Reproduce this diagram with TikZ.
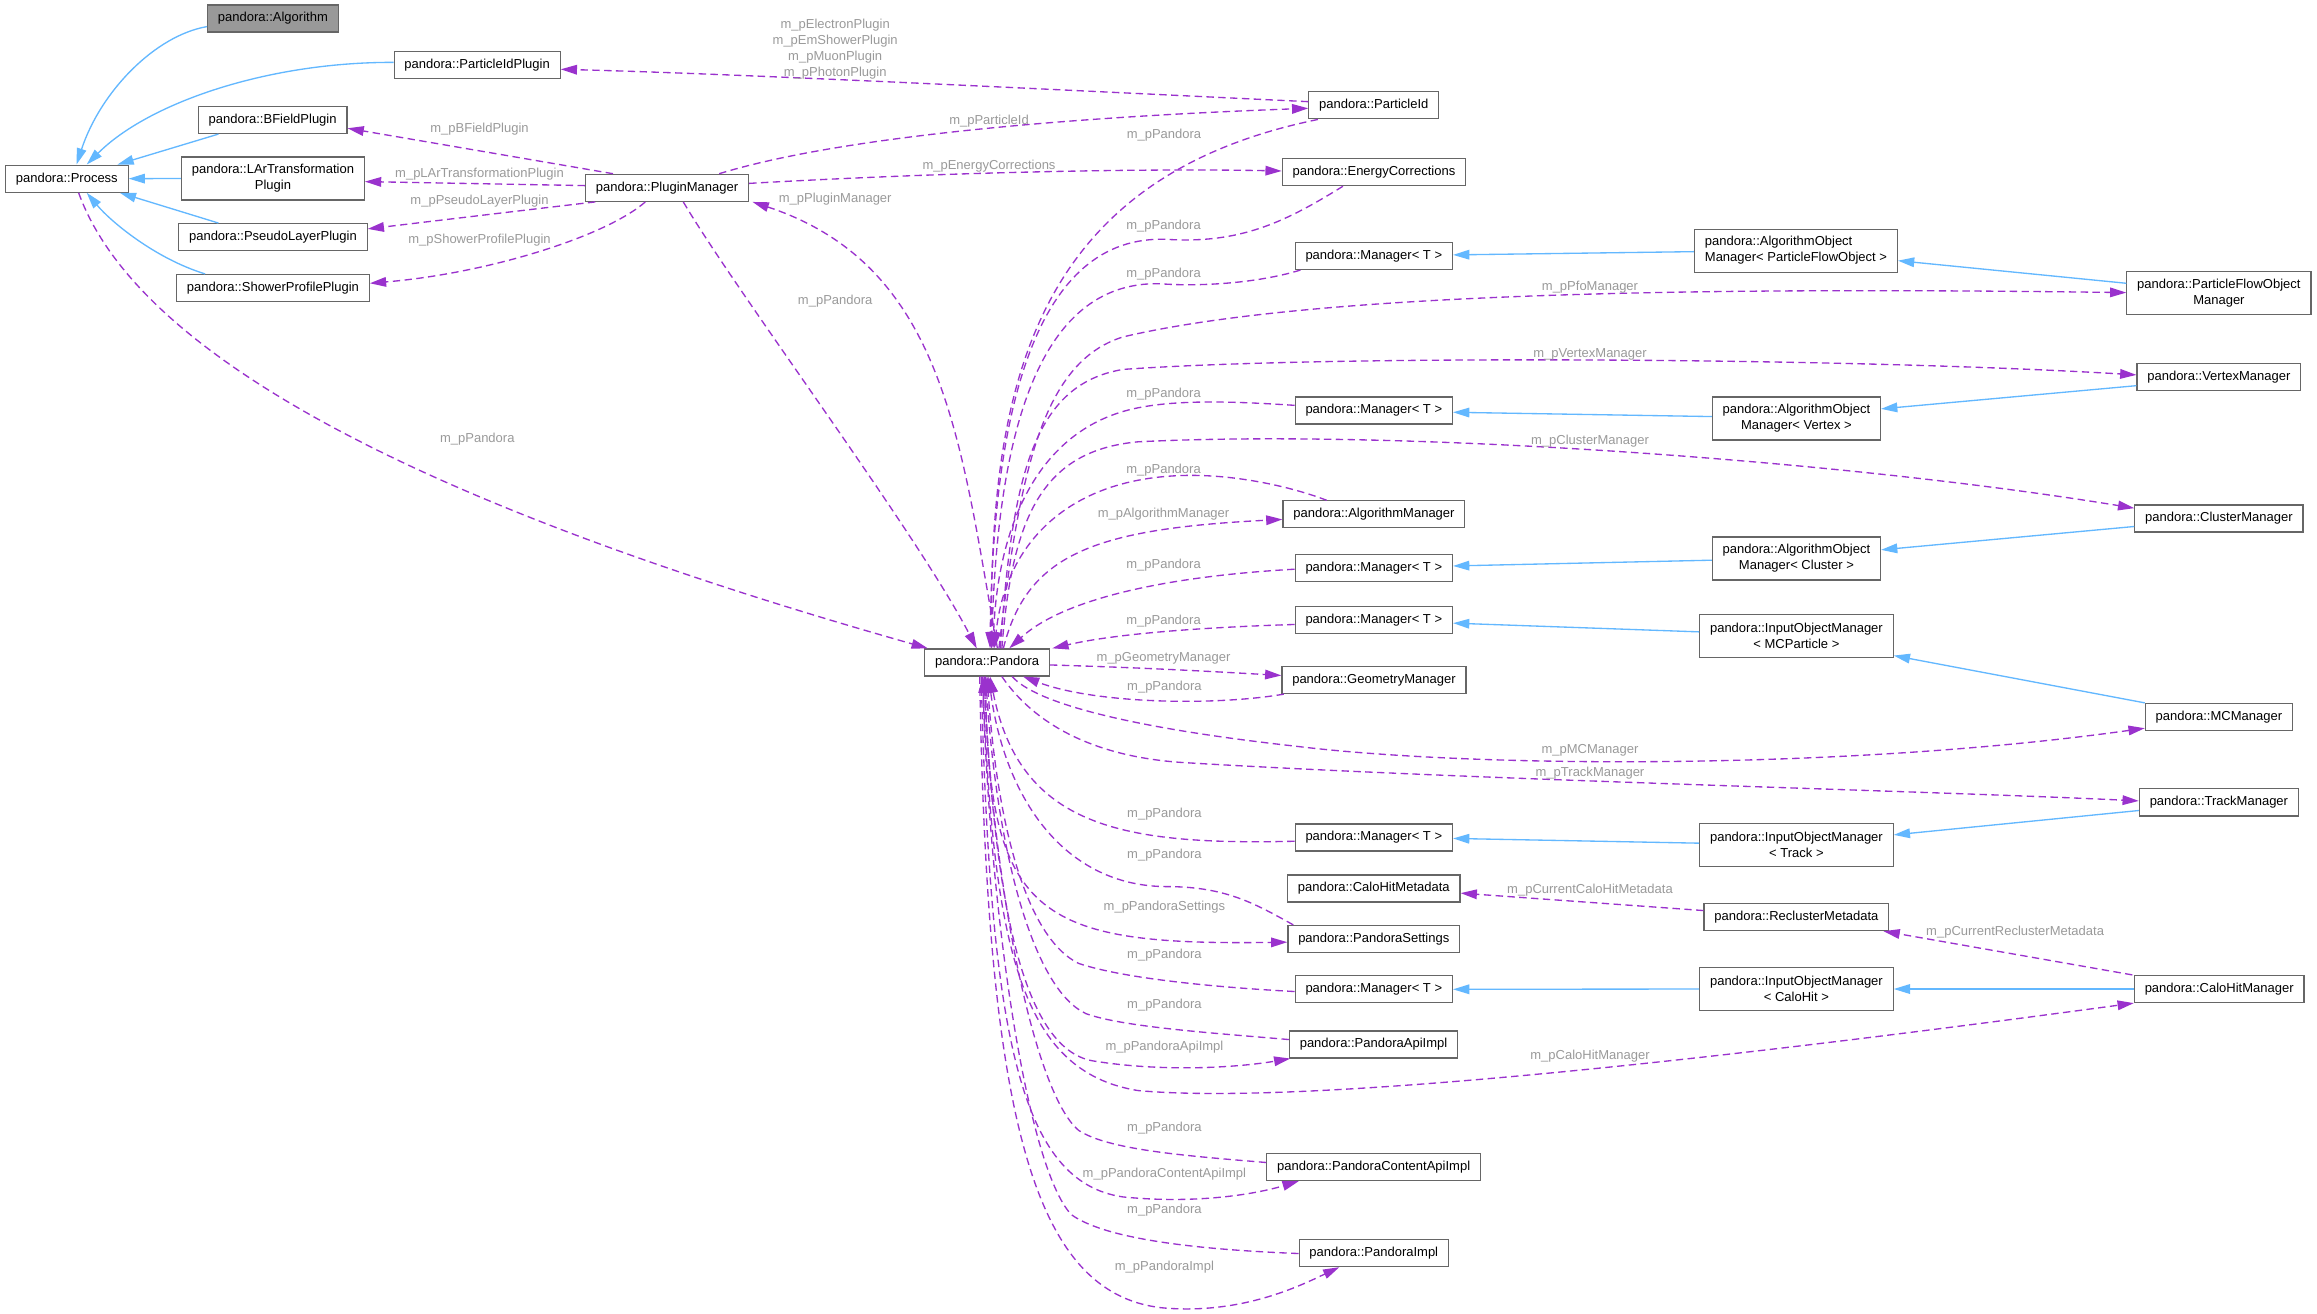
\documentclass[tikz,border=0pt]{standalone}
\usepackage{fontspec}
\setmainfont{Liberation Sans}
\usetikzlibrary{arrows.meta,calc}
\definecolor{usec}{HTML}{9A32CD}
\definecolor{inhc}{HTML}{63B8FF}
\definecolor{bordc}{HTML}{666666}
\definecolor{lblc}{HTML}{9A9A9A}
\definecolor{algfill}{HTML}{999999}
\newcommand{\dfs}{\fontsize{8.8}{10.8}\selectfont}
\begin{document}
\begin{tikzpicture}[x=1pt,y=-1pt,
  cls/.style={draw=bordc, fill=white, line width=0.8pt, inner xsep=7pt, inner ysep=0pt, minimum height=18.3pt, font=\dfs, text=black},
  cls2/.style={cls, align=center, minimum height=29.1pt},
  inh/.style={draw=inhc, line width=0.9pt, -{Triangle[length=11pt,width=6.5pt]}},
  use/.style={draw=usec, line width=0.9pt, dash pattern=on 5pt off 3pt, -{Triangle[length=11pt,width=6.5pt]}},
  lbl/.style={text=lblc, font=\dfs, inner sep=0pt, align=center}]
\fill[white] (0,0) rectangle (1568,888.6);
\useasboundingbox (0,0) rectangle (1568,888.6);

% ---------- nodes ----------
\node[cls, fill=algfill] (alg) at (184.7,12.5) {pandora::Algorithm};
\node[cls] (pip) at (322.9,44.2) {pandora::ParticleIdPlugin};
\node[cls] (bfp) at (184.5,81.2) {pandora::BFieldPlugin};
\node[cls2] (lar) at (184.7,120.8) {pandora::LArTransformation\\Plugin};
\node[cls] (proc) at (45.2,120.9) {pandora::Process};
\node[cls] (plp) at (184.7,160.5) {pandora::PseudoLayerPlugin};
\node[cls] (spp) at (184.7,194.9) {pandora::ShowerProfilePlugin};
\node[cls] (pm) at (451.4,127.1) {pandora::PluginManager};
\node[cls] (pid) at (929.7,71.3) {pandora::ParticleId};
\node[cls] (ec) at (929.8,116.5) {pandora::EnergyCorrections};
\node[cls] (m1) at (929.7,173.2) {pandora::Manager< T >};
\node[cls] (m2) at (929.7,277.8) {pandora::Manager< T >};
\node[cls] (am) at (929.8,348.1) {pandora::AlgorithmManager};
\node[cls] (m3) at (929.7,384.5) {pandora::Manager< T >};
\node[cls] (m4) at (929.7,419.6) {pandora::Manager< T >};
\node[cls] (pan) at (668,448.3) {pandora::Pandora};
\node[cls] (gm) at (929.8,460.2) {pandora::GeometryManager};
\node[cls] (m5) at (929.7,566.8) {pandora::Manager< T >};
\node[cls] (chmd) at (929.7,601.3) {pandora::CaloHitMetadata};
\node[cls] (ps) at (929.7,635.4) {pandora::PandoraSettings};
\node[cls] (m6) at (929.7,669.5) {pandora::Manager< T >};
\node[cls] (pai) at (929.5,706.8) {pandora::PandoraApiImpl};
\node[cls] (pcai) at (929.6,789.8) {pandora::PandoraContentApiImpl};
\node[cls] (pimpl) at (929.7,848) {pandora::PandoraImpl};
\node[cls2, align=left] (aompfo) at (1215.4,169.6) {pandora::AlgorithmObject\\Manager< ParticleFlowObject >};
\node[cls2] (pfom) at (1501.6,198.4) {pandora::ParticleFlowObject\\Manager};
\node[cls] (vm) at (1501.6,255.2) {pandora::VertexManager};
\node[cls2] (aomv) at (1215.7,283.2) {pandora::AlgorithmObject\\Manager< Vertex >};
\node[cls] (cm) at (1501.6,350.9) {pandora::ClusterManager};
\node[cls2] (aomc) at (1215.7,377.9) {pandora::AlgorithmObject\\Manager< Cluster >};
\node[cls2] (iommc) at (1215.7,430.2) {pandora::InputObjectManager\\< MCParticle >};
\node[cls] (mcm) at (1501.6,485.2) {pandora::MCManager};
\node[cls] (tm) at (1501.6,543) {pandora::TrackManager};
\node[cls2] (iomt) at (1215.7,571.8) {pandora::InputObjectManager\\< Track >};
\node[cls] (rm) at (1215.7,620.6) {pandora::ReclusterMetadata};
\node[cls2] (iomch) at (1215.7,669.3) {pandora::InputObjectManager\\< CaloHit >};
\node[cls] (chm) at (1501.8,669.3) {pandora::CaloHitManager};

% ---------- inheritance ----------
\draw[inh] ($(alg.west)+(0,5.5)$) .. controls (105,24) and (68,62) .. ($(proc.north)+(6.6,0)$);
\draw[inh] ($(pip.west)+(0,-2)$) .. controls (180,42) and (100,70) .. ($(proc.north)+(13.5,0)$);
\draw[inh] ($(bfp.south west)+(14,0)$) -- ($(proc.north east)+(-7.6,0)$);
\draw[inh] (lar.west) -- (proc.east);
\draw[inh] ($(plp.north west)+(27.3,0)$) -- ($(proc.south east)+(-6,0)$);
\draw[inh] ($(spp.north west)+(19.7,0)$) .. controls (105,175) and (75,150) .. ($(proc.south)+(13.5,0)$);
\draw[inh] ($(aompfo.west)+(0,0.7)$) -- ($(m1.east)+(0,-0.7)$);
\draw[inh] ($(pfom.west)+(0,-6.7)$) -- ($(aompfo.east)+(0,6.8)$);
\draw[inh] ($(aomv.west)+(0,-1.3)$) -- ($(m2.east)+(0,1.2)$);
\draw[inh] ($(vm.west)+(0,5.8)$) -- ($(aomv.east)+(0,-6.5)$);
\draw[inh] ($(aomc.west)+(0,1.2)$) -- ($(m3.east)+(0,-1.5)$);
\draw[inh] ($(cm.west)+(0,5.4)$) -- ($(aomc.east)+(0,-5.8)$);
\draw[inh] ($(iommc.west)+(0,-2.6)$) -- ($(m4.east)+(0,2.1)$);
\draw[inh] (mcm.north west) -- ($(iommc.south east)+(0,-1.5)$);
\draw[inh] ($(iomt.west)+(0,-1.2)$) -- ($(m5.east)+(0,0.6)$);
\draw[inh] ($(tm.west)+(0,5.5)$) -- ($(iomt.east)+(0,-6.8)$);
\draw[inh] (iomch.west) -- (m6.east);
\draw[inh] (chm.west) -- (iomch.east);

% ---------- usage: left part ----------
\draw[use] ($(pid.west)+(0,-2.5)$) .. controls (700,60) and (500,50) .. ($(pip.east)+(0,2.7)$);
\draw[use] ($(pm.north)+(35.3,0)$) .. controls (560,95) and (700,80) .. ($(pid.west)+(0,2)$);
\draw[use] ($(pm.east)+(0,-3)$) .. controls (650,116) and (780,114) .. ($(ec.west)+(0,-0.8)$);
\draw[use] ($(pm.north west)+(19,0)$) -- ($(bfp.east)+(0,5.6)$);
\draw[use] ($(pm.west)+(0,-1.5)$) -- ($(lar.east)+(0,2.1)$);
\draw[use] ($(pm.south west)+(7,0)$) .. controls (340,144) and (290,150) .. ($(plp.east)+(0,-5.6)$);
\draw[use] ($(pm.south)+(-14.7,0)$) .. controls (410,160) and (330,185) .. ($(spp.east)+(0,-3.2)$);
\draw[use] ($(pm.south)+(11,0)$) .. controls (500,200) and (620,360) .. ($(pan.north)+(-7,0)$);
\draw[use] ($(pan.north)+(7,0)$) .. controls (650,300) and (640,180) .. ($(pm.south east)+(2.3,0)$);
\draw[use] ($(proc.south)+(8,0)$) .. controls (100,260) and (350,360) .. ($(pan.north west)+(2.5,0)$);

% ---------- usage: to Pandora top ----------
\draw[use] ($(pid.south west)+(6.5,0)$) .. controls (700,120) and (670,260) .. ($(pan.north)+(3,0)$);
\draw[use] ($(ec.south)+(-21,0)$) .. controls (870,150) and (840,165) .. (790,162) .. controls (700,158) and (672,280) .. ($(pan.north)+(2,0)$);
\draw[use] ($(m1.south west)+(4,0)$) .. controls (850,192) and (810,194) .. (785,192) .. controls (700,190) and (675,300) .. ($(pan.north)+(3,0)$);
\draw[use] ($(m2.west)+(0,-3.5)$) .. controls (840,272) and (800,270) .. (770,276) .. controls (700,290) and (675,360) .. ($(pan.north)+(4,0)$);
\draw[use] ($(am.north)+(-32,0)$) .. controls (870,328) and (830,320) .. (795,322) .. controls (720,326) and (680,370) .. ($(pan.north)+(5,0)$);
\draw[use] ($(m3.west)+(0,0.7)$) .. controls (790,390) and (720,405) .. ($(pan.north)+(15,0)$);
\draw[use] ($(m4.west)+(0,3)$) .. controls (800,425) and (750,430) .. ($(pan.north east)+(1.5,0)$);

% ---------- usage: from Pandora top ----------
\draw[use] ($(pan.north)+(8,0)$) .. controls (690,320) and (705,245) .. (760,228) .. controls (900,195) and (1200,195) .. ($(pfom.west)+(0,-0.4)$);
\draw[use] ($(pan.north)+(9,0)$) .. controls (685,320) and (700,260) .. (760,250) .. controls (900,240) and (1250,242) .. ($(vm.west)+(0,-1.5)$);
\draw[use] ($(pan.north)+(10,0)$) .. controls (685,350) and (705,305) .. (770,299) .. controls (950,290) and (1250,312) .. ($(cm.west)+(0,-7)$);
\draw[use] ($(pan.north)+(11,0)$) .. controls (695,375) and (740,358) .. ($(am.west)+(0,3.4)$);

% ---------- usage: geometry ----------
\draw[use] ($(pan.east)+(0,1.7)$) .. controls (780,452) and (830,455) .. ($(gm.west)+(0,-3.1)$);
\draw[use] ($(gm.south west)+(1.7,0)$) .. controls (820,478) and (740,476) .. ($(pan.south east)+(-18.3,0)$);

% ---------- usage: from Pandora bottom ----------
\draw[use] ($(pan.south)+(17,0)$) .. controls (700,475) and (760,492) .. (877,505) .. controls (1000,520) and (1250,521) .. ($(mcm.west)+(0,7.6)$);
\draw[use] ($(pan.south)+(10,0)$) .. controls (700,490) and (740,512) .. (800,516) .. controls (1000,528) and (1300,535) .. ($(tm.west)+(0,-1)$);
\draw[use] ($(pan.south)+(-1,0)$) .. controls (668,620) and (700,640) .. ($(ps.west)+(0,2.2)$);
\draw[use] ($(pan.south)+(-2,0)$) .. controls (672,600) and (690,710) .. (740,718) .. controls (790,726) and (840,722) .. ($(pai.south west)+(1,0)$);
\draw[use] ($(pan.south)+(-3,0)$) .. controls (672,640) and (690,725) .. (770,738) .. controls (900,750) and (1250,705) .. (chm.south west);
\draw[use] ($(pan.south)+(-4,0)$) .. controls (670,700) and (690,800) .. (760,810) .. controls (810,815) and (850,808) .. ($(pcai.south west)+(22,0)$);
\draw[use] ($(pan.south)+(-5,0)$) .. controls (668,760) and (700,875) .. (786,885) .. controls (840,890) and (880,870) .. ($(pimpl.south west)+(27.6,0)$);

% ---------- usage: to Pandora bottom ----------
\draw[use] ($(m5.west)+(0,2.5)$) .. controls (760,572) and (690,560) .. ($(pan.south)+(2,0)$);
\draw[use] ($(ps.north west)+(4,0)$) .. controls (850,612) and (830,600) .. (790,600) .. controls (720,600) and (680,540) .. ($(pan.south)+(1,0)$);
\draw[use] ($(m6.west)+(0,1.5)$) .. controls (820,668) and (760,662) .. (730,652) .. controls (695,635) and (675,560) .. (pan.south);
\draw[use] ($(pai.west)+(0,-3.3)$) .. controls (820,699) and (760,695) .. (735,686) .. controls (700,670) and (675,580) .. ($(pan.south)+(-1,0)$);
\draw[use] ($(pcai.west)+(0,-3.1)$) .. controls (800,782) and (750,778) .. (730,765) .. controls (700,740) and (672,600) .. ($(pan.south)+(-2,0)$);
\draw[use] ($(pimpl.west)+(0,0.3)$) .. controls (820,846) and (750,840) .. (725,822) .. controls (695,790) and (670,620) .. ($(pan.south)+(-3,0)$);

% ---------- usage: metadata ----------
\draw[use] ($(rm.west)+(0,-4.4)$) -- ($(chmd.east)+(0,3.1)$);
\draw[use] ($(chm.north west)+(-1,0)$) -- ($(rm.south east)+(-4,0)$);

% ---------- labels ----------
\node[lbl] (la) at (565.2,33) {m\_pElectronPlugin\\m\_pEmShowerPlugin\\m\_pMuonPlugin\\m\_pPhotonPlugin};
\node[lbl] (lb) at (669.3,81.7) {m\_pParticleId};
\node[lbl] (lc) at (787.7,91.3) {m\_pPandora};
\node[lbl] (ld) at (669.3,112.1) {m\_pEnergyCorrections};
\node[lbl] (le) at (787.4,153.2) {m\_pPandora};
\node[lbl] (lf) at (787.4,185.3) {m\_pPandora};
\node[lbl] (lg) at (1076,194.4) {m\_pPfoManager};
\node[lbl] (lh) at (1076,239.7) {m\_pVertexManager};
\node[lbl] (li) at (787.4,267) {m\_pPandora};
\node[lbl] (lj) at (1076,298.2) {m\_pClusterManager};
\node[lbl] (lk) at (787.4,318) {m\_pPandora};
\node[lbl] (ll) at (787.4,347.7) {m\_pAlgorithmManager};
\node[lbl] (lm) at (787.4,382.3) {m\_pPandora};
\node[lbl] (ln) at (787.4,420.1) {m\_pPandora};
\node[lbl] (lo) at (787.4,445.7) {m\_pGeometryManager};
\node[lbl] (lp) at (788,464.7) {m\_pPandora};
\node[lbl] (lq) at (1076,507.5) {m\_pMCManager};
\node[lbl] (lt1) at (1076,523.5) {m\_pTrackManager};
\node[lbl] (lr) at (788,550.7) {m\_pPandora};
\node[lbl] (ls) at (788,578.5) {m\_pPandora};
\node[lbl] (lt) at (788,613.8) {m\_pPandoraSettings};
\node[lbl] (lu) at (1076,602.2) {m\_pCurrentCaloHitMetadata};
\node[lbl] (lv) at (788,646.2) {m\_pPandora};
\node[lbl] (lw) at (1363.7,631) {m\_pCurrentReclusterMetadata};
\node[lbl] (lx) at (788,680) {m\_pPandora};
\node[lbl] (ly) at (788,708.4) {m\_pPandoraApiImpl};
\node[lbl] (lz) at (1076,715) {m\_pCaloHitManager};
\node[lbl] (laa) at (788,763.2) {m\_pPandora};
\node[lbl] (lbb) at (788,794.7) {m\_pPandoraContentApiImpl};
\node[lbl] (lcc) at (788,819.1) {m\_pPandora};
\node[lbl] (ldd) at (788,857.8) {m\_pPandoraImpl};
\node[lbl] (lee) at (323,297) {m\_pPandora};
\node[lbl] (lff) at (324.5,87.3) {m\_pBFieldPlugin};
\node[lbl] (lgg) at (324.5,118) {m\_pLArTransformationPlugin};
\node[lbl] (lhh) at (324.5,136) {m\_pPseudoLayerPlugin};
\node[lbl] (lii) at (324.5,162.8) {m\_pShowerProfilePlugin};
\node[lbl] (ljj) at (565.2,204.1) {m\_pPandora};
\node[lbl] (lkk) at (565.2,134.6) {m\_pPluginManager};
\end{tikzpicture}
\end{document}
